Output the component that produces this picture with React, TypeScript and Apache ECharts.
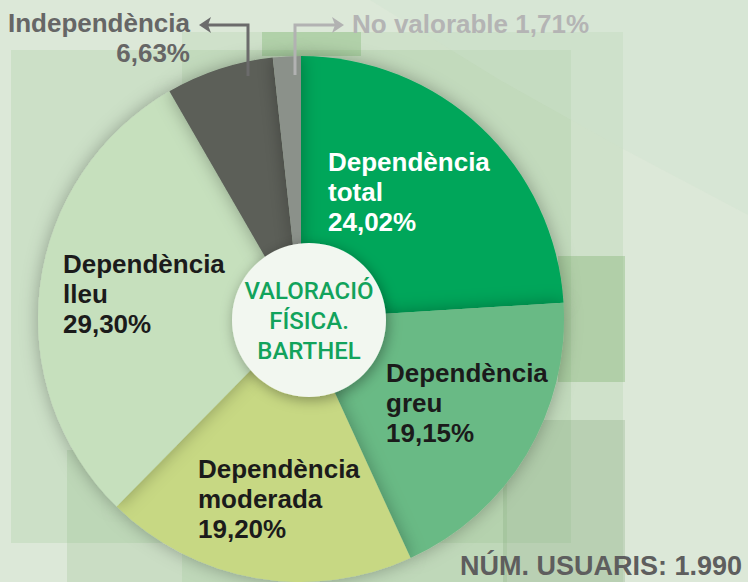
import React, { useEffect, useRef } from "react";
import * as echarts from "echarts";

// ---- data ----
const categories = [
  "Dependència total",
  "Dependència greu",
  "Dependència moderada",
  "Dependència lleu",
  "Independència",
  "No valorable",
];
const displayNames = [
  "Dependència\ntotal",
  "Dependència\ngreu",
  "Dependència\nmoderada",
  "Dependència\nlleu",
  "Independència",
  "No valorable",
];
const values = [24.02, 19.15, 19.2, 29.3, 6.63, 1.71];
const centerTitle = "VALORACIÓ\nFÍSICA.\nBARTHEL";
const footer = "NÚM. USUARIS: 1.990";

// ---- styles ----
const sliceColors = ["#00a65a", "#69ba85", "#c7d883", "#c6e0bd", "#5b5f58", "#8b918a"];
const labelColors = ["#ffffff", "#1b1b1b", "#1b1b1b", "#1b1b1b", "#666666", "#b4b4b4"];
const labelPos = [
  { x: 328, y: 192, align: "left" },
  { x: 386, y: 403, align: "left" },
  { x: 198, y: 499, align: "left" },
  { x: 63, y: 294, align: "left" },
  { x: 190, y: 38, align: "right" },
  { x: 352, y: 24, align: "left" },
];

const fmt = (v: number) => v.toFixed(2).replace(".", ",") + "%";

export default function App() {
  const ref = useRef<HTMLDivElement>(null);
  useEffect(() => {
    document.body.style.margin = "0";
    if (!ref.current) return;
    const chart = echarts.init(ref.current, undefined, { renderer: "svg" });
    const data = categories.map((c, i) => ({
      name: c,
      value: values[i],
      itemStyle: { color: sliceColors[i] },
      label: { color: labelColors[i] },
    }));
    const bgRects = [
      { x: 11, y: 50, w: 560, h: 493, c: "rgba(150,195,140,0.22)" },
      { x: 182, y: 32, w: 441, h: 550, c: "rgba(150,195,140,0.18)" },
      { x: 262, y: 32, w: 99, h: 24, c: "rgba(120,180,110,0.35)" },
      { x: 558, y: 256, w: 67, h: 126, c: "rgba(120,175,105,0.35)" },
      { x: 503, y: 420, w: 122, h: 162, c: "rgba(120,160,110,0.25)" },
      { x: 67, y: 450, w: 440, h: 132, c: "rgba(130,180,120,0.2)" },
    ];
    chart.setOption({
      animation: false,
      backgroundColor: "#dce8d8",
      graphic: [
        ...bgRects.map((r) => ({
          type: "rect",
          z: -10,
          silent: true,
          shape: { x: r.x, y: r.y, width: r.w, height: r.h },
          style: { fill: r.c },
        })),
        {
          type: "polygon",
          z: -9,
          silent: true,
          shape: { points: [[370, 0], [748, 0], [748, 215], [625, 150], [500, 80]] },
          style: { fill: "rgba(205,225,205,0.3)" },
        },
        {
          type: "circle",
          z: 100,
          shape: { cx: 309, cy: 320, r: 77 },
          style: {
            fill: "#f2f7f0",
            shadowBlur: 14,
            shadowColor: "rgba(0,0,0,0.35)",
            shadowOffsetX: 2,
            shadowOffsetY: 3,
          },
        },
        {
          type: "text",
          z: 101,
          x: 309,
          y: 321,
          style: {
            text: centerTitle,
            fill: "#12a35c",
            font: "500 24px Roboto",
            align: "center",
            verticalAlign: "middle",
            lineHeight: 30,
          },
        },
        // arrow for Independència
        {
          type: "polyline",
          z: 100,
          shape: { points: [[248, 76], [248, 25], [206, 25]] },
          style: { stroke: "#6b6b6b", lineWidth: 3, fill: null },
        },
        {
          type: "polygon",
          z: 100,
          shape: { points: [[199, 25], [211, 17], [208, 25], [211, 33]] },
          style: { fill: "#6b6b6b" },
        },
        // arrow for No valorable
        {
          type: "polyline",
          z: 100,
          shape: { points: [[295, 75], [295, 25], [337, 25]] },
          style: { stroke: "#b2b2b2", lineWidth: 3, fill: null },
        },
        {
          type: "polygon",
          z: 100,
          shape: { points: [[344, 25], [332, 17], [335, 25], [332, 33]] },
          style: { fill: "#b2b2b2" },
        },
        {
          type: "text",
          z: 100,
          x: 742,
          y: 566,
          style: {
            text: footer,
            fill: "#5e5e5e",
            font: "bold 27px 'Liberation Sans'",
            align: "right",
            verticalAlign: "middle",
          },
        },
      ],
      series: [
        {
          type: "pie",
          center: [301, 319],
          radius: 263,
          startAngle: 90,
          clockwise: true,
          avoidLabelOverlap: false,
          itemStyle: {
            shadowBlur: 18,
            shadowColor: "rgba(0,0,0,0.3)",
          },
          label: {
            show: true,
            position: "inside",
            fontFamily: "Liberation Sans",
            fontWeight: "bold",
            fontSize: 26,
            lineHeight: 30,
            formatter: (p: any) =>
              p.dataIndex === 5
                ? displayNames[p.dataIndex] + " " + fmt(p.value)
                : displayNames[p.dataIndex] + "\n" + fmt(p.value),
          },
          labelLine: { show: false },
          labelLayout: (p: any) => {
            const q = labelPos[p.dataIndex];
            return { x: q.x, y: q.y, align: q.align, verticalAlign: "middle" };
          },
          emphasis: { disabled: true },
          data,
        },
      ],
    });
    return () => chart.dispose();
  }, []);
  return <div ref={ref} style={{ width: 748, height: 582 }} />;
}
